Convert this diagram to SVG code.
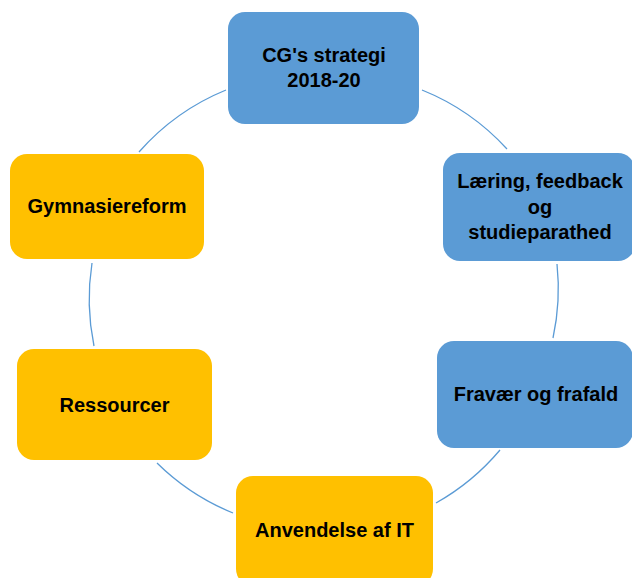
<svg xmlns="http://www.w3.org/2000/svg" width="632" height="578" viewBox="0 0 632 578">
<style>
.arc{fill:none;stroke:#5B9BD5;stroke-width:1.3}
.blue{fill:#5B9BD5}
.orange{fill:#FFC000}
text{font-family:"Liberation Sans",Arial,sans-serif;font-weight:bold;font-size:20px;fill:#000;text-anchor:middle}
</style>
<rect width="632" height="578" fill="#fff"/>
<g id="connectors">
<path class="arc" d="M 422 90 A 233 233 0 0 1 507 149"/>
<path class="arc" d="M 557 264 A 233 233 0 0 1 553 338"/>
<path class="arc" d="M 500 450 A 233 233 0 0 1 436 503"/>
<path class="arc" d="M 233 513 A 233 233 0 0 1 157 463"/>
<path class="arc" d="M 94 346 A 233 233 0 0 1 92 263"/>
<path class="arc" d="M 139 152 A 233 233 0 0 1 226 90"/>
</g>
<g id="node-strategi">
<rect class="blue" x="228" y="12" width="191" height="112" rx="17"/>
<text x="324" y="62">CG's strategi</text>
<text x="324" y="87">2018-20</text>
</g>
<g id="node-laering">
<rect class="blue" x="443" y="153" width="192" height="108" rx="17"/>
<text x="540" y="188">Læring, feedback</text>
<text x="540" y="214">og</text>
<text x="540" y="239">studieparathed</text>
</g>
<g id="node-fravaer">
<rect class="blue" x="437" y="341" width="196" height="107" rx="17"/>
<text x="536" y="401">Fravær og frafald</text>
</g>
<g id="node-anvendelse">
<rect class="orange" x="236" y="476" width="197" height="110" rx="17"/>
<text x="334.5" y="537">Anvendelse af IT</text>
</g>
<g id="node-ressourcer">
<rect class="orange" x="17" y="349" width="195" height="111" rx="17"/>
<text x="114.5" y="412">Ressourcer</text>
</g>
<g id="node-gymnasiereform">
<rect class="orange" x="10" y="154" width="194" height="105" rx="17"/>
<text x="107" y="213">Gymnasiereform</text>
</g>
</svg>
